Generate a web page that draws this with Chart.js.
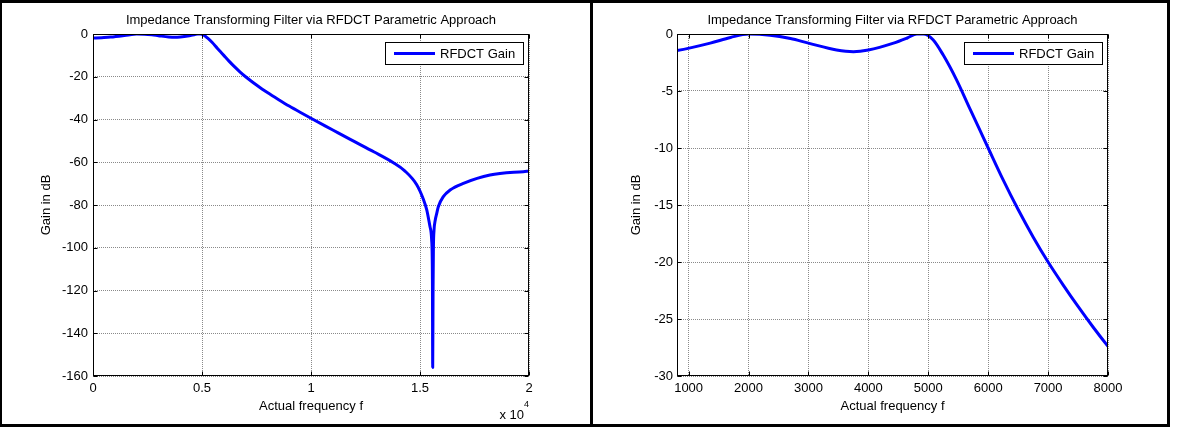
<!DOCTYPE html>
<html>
<head>
<meta charset="utf-8">
<title>Impedance Transforming Filter via RFDCT Parametric Approach</title>
<script src="https://cdn.jsdelivr.net/npm/chart.js@4.4.0/dist/chart.umd.min.js"></script>
<style>
  html, body { margin: 0; padding: 0; background: #fff; }
  body { width: 1182px; height: 427px; position: relative; overflow: hidden; }
  .panel { position: absolute; top: 0; height: 427px; box-sizing: border-box; border: 3px solid #000; }
  #panelL { left: 0; width: 593px; border-left-width: 2px; }
  #panelR { left: 590px; width: 580px; }
  canvas { position: absolute; top: 0; }
  #leftChart { left: 0; }
  #rightChart { left: 590px; }
</style>
</head>
<body>
<div class="panel" id="panelL"></div>
<div class="panel" id="panelR"></div>
<canvas id="leftChart" width="590" height="427"></canvas>
<canvas id="rightChart" width="592" height="427"></canvas>
<script>
// Gain curve (frequency in Hz, gain in dB)
const freq = [0, 400, 806, 1361, 1700, 2000, 2360, 2700, 3000, 3470, 3750, 4000, 4420, 4650, 4810, 4920,
  5080, 5250, 5470, 5690, 5850, 6000, 6250, 6500, 6750, 7000, 7250, 7500, 7750, 8000, 8500, 9000,
  9500, 10000, 11000, 11800, 12900, 13780, 14300, 14850, 15150, 15310, 15460, 15535, 15570, 15583, 15600,
  15615, 15642, 15700, 15765, 15840, 16070, 16380, 16990, 18210, 19740, 20000];
const gain = [-1.9, -1.7, -1.45, -0.8, -0.3, 0, -0.1, -0.4, -0.8, -1.4, -1.55, -1.4, -0.8, -0.35, 0, 0,
  -0.5, -1.85, -4, -6.5, -8.3, -10, -12.8, -15.4, -17.8, -20, -22, -23.9, -25.7, -27.4, -30.6, -33.7,
  -36.6, -39.4, -44.9, -49.3, -55.2, -60.2, -64, -70.5, -77.2, -82.3, -90.2, -96.4, -115, -156, -118,
  -100, -92, -87, -84, -80.8, -76.1, -73, -69.9, -66, -64.4, -64.2];

// tick values
const xTicksLeft = [0, 5000, 10000, 15000, 20000];
const yTicksLeft = [0, -20, -40, -60, -80, -100, -120, -140, -160];
const xTicksRight = [1000, 2000, 3000, 4000, 5000, 6000, 7000, 8000];
const yTicksRight = [0, -5, -10, -15, -20, -25, -30];

const chartTitle = 'Impedance Transforming Filter via RFDCT Parametric Approach';
const seriesLabel = 'RFDCT Gain';
const FONT = '"Liberation Sans", Arial, Helvetica, sans-serif';

Chart.defaults.font.family = FONT;
Chart.defaults.font.size = 13;
Chart.defaults.color = '#000';

// frame with inward ticks, boxed legend, optional x10^n exponent
const matlabAxes = {
  id: 'matlabAxes',
  afterDraw(chart, args, opts) {
    const {ctx, chartArea: a, scales: {x, y}} = chart;
    ctx.save();
    ctx.strokeStyle = '#000';
    ctx.lineWidth = 1;
    const L = Math.round(a.left) + 0.5, R = Math.round(a.right) - 0.5;
    const T = Math.round(a.top) + 0.5, B = Math.round(a.bottom) - 0.5;
    ctx.strokeRect(L, T, R - L, B - T);
    const t = 4;
    ctx.beginPath();
    x.ticks.forEach(tk => {
      const px = Math.round(x.getPixelForValue(tk.value)) + 0.5;
      ctx.moveTo(px, B); ctx.lineTo(px, B - t);
      ctx.moveTo(px, T); ctx.lineTo(px, T + t);
    });
    y.ticks.forEach(tk => {
      const py = Math.round(y.getPixelForValue(tk.value)) + 0.5;
      ctx.moveTo(L, py); ctx.lineTo(L + t, py);
      ctx.moveTo(R, py); ctx.lineTo(R - t, py);
    });
    ctx.stroke();

    // legend box
    const ds = chart.data.datasets[0];
    ctx.font = '13px ' + FONT;
    const tw = ctx.measureText(ds.label).width;
    const w = Math.round(9 + 41 + 5 + tw + 8), h = 22;
    const x0 = Math.round(a.right - 6 - w), y0 = Math.round(a.top + 8);
    ctx.fillStyle = '#fff';
    ctx.fillRect(x0, y0, w, h);
    ctx.strokeStyle = '#000';
    ctx.lineWidth = 1;
    ctx.strokeRect(x0 + 0.5, y0 + 0.5, w, h);
    ctx.strokeStyle = ds.borderColor;
    ctx.lineWidth = ds.borderWidth;
    ctx.beginPath();
    ctx.moveTo(x0 + 9, y0 + h / 2 + 0.5);
    ctx.lineTo(x0 + 50, y0 + h / 2 + 0.5);
    ctx.stroke();
    ctx.fillStyle = '#000';
    ctx.textBaseline = 'middle';
    ctx.textAlign = 'left';
    ctx.fillText(ds.label, x0 + 55, y0 + h / 2 + 1);

    // exponent under the x axis
    if (opts.exponent) {
      ctx.font = '9px ' + FONT;
      const ew = ctx.measureText(opts.exponent).width;
      ctx.textAlign = 'right';
      ctx.fillText(opts.exponent, a.right, 405);
      ctx.font = '13px ' + FONT;
      ctx.fillText('x 10', a.right - ew, 415);
    }
    ctx.restore();
  }
};

function makeChart(id, cfg) {
  const canvas = document.getElementById(id);
  return new Chart(canvas.getContext('2d'), {
    type: 'line',
    data: {
      datasets: [{
        label: seriesLabel,
        data: freq.map((f, i) => ({x: f, y: gain[i]})),
        borderColor: '#0000ff',
        borderWidth: 3,
        borderJoinStyle: 'round',
        pointRadius: 0,
        cubicInterpolationMode: 'monotone',
        fill: false
      }]
    },
    options: {
      responsive: false,
      animation: false,
      layout: {padding: {left: 0, top: 0, bottom: 0, right: cfg.padRight}},
      plugins: {
        legend: {display: false},
        tooltip: {enabled: false},
        title: {
          display: true,
          text: chartTitle,
          fullSize: false,
          font: {size: 13, weight: 'normal'},
          padding: {top: 13, bottom: 5.4}
        },
        matlabAxes: {exponent: cfg.exponent}
      },
      scales: {
        x: {
          type: 'linear',
          min: cfg.xMin,
          max: cfg.xMax,
          afterBuildTicks: s => { s.ticks = cfg.xTicks.map(v => ({value: v})); },
          afterFit: s => { s.height = 51; },
          grid: {color: '#8a8a8a', drawTicks: false},
          border: {display: false, dash: [1, 1]},
          ticks: {padding: 5, maxRotation: 0, autoSkip: false, callback: cfg.xFormat},
          title: {display: true, text: 'Actual frequency f', padding: {top: 0, bottom: 13}}
        },
        y: {
          min: cfg.yMin,
          max: 0,
          afterBuildTicks: s => { s.ticks = cfg.yTicks.map(v => ({value: v})); },
          afterFit: s => { s.width = cfg.yWidth; },
          grid: {color: '#8a8a8a', drawTicks: false},
          border: {display: false, dash: [1, 1]},
          ticks: {padding: cfg.yPad, autoSkip: false},
          title: {display: true, text: 'Gain in dB', padding: {top: 39, bottom: 0}}
        }
      }
    },
    plugins: [matlabAxes]
  });
}

makeChart('leftChart', {
  xMin: 0, xMax: 20000, yMin: -160, xTicks: xTicksLeft, yTicks: yTicksLeft,
  xFormat: v => String(v / 10000), exponent: '4', padRight: 61, yWidth: 93, yPad: 5
});
makeChart('rightChart', {
  xMin: 806, xMax: 8000, yMin: -30, xTicks: xTicksRight, yTicks: yTicksRight,
  xFormat: v => String(v), exponent: null, padRight: 74, yWidth: 87, yPad: 4
});
</script>
</body>
</html>
